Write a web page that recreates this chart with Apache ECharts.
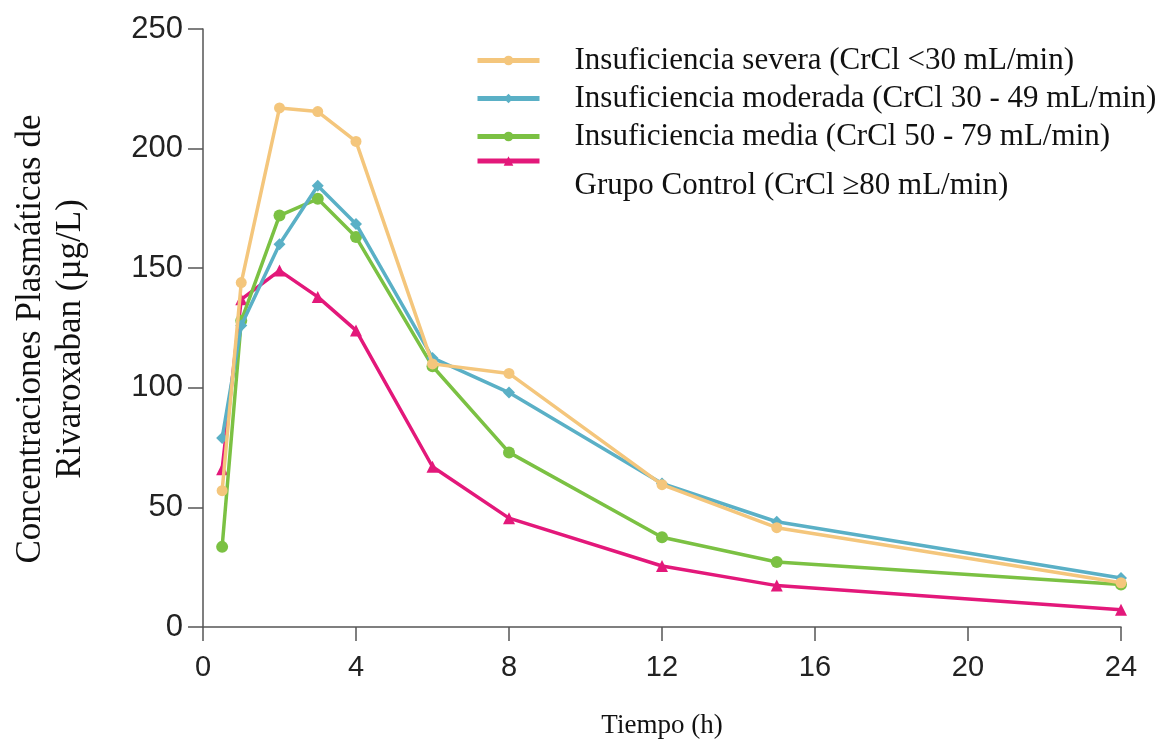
<!DOCTYPE html>
<html>
<head>
<meta charset="utf-8">
<script src="https://cdn.jsdelivr.net/npm/echarts@6/dist/echarts.min.js"></script>
<style>
html,body{margin:0;padding:0;background:#fff;}
#chart{width:1167px;height:747px;}
</style>
</head>
<body>
<div id="chart"></div>
<script>
const times = [0.5, 1, 2, 3, 4, 6, 8, 12, 15, 24];
const severa =   [57, 144, 217, 215.5, 203, 110, 106, 59.5, 41.5, 18.5];
const moderada = [79, 126, 160, 184.5, 168.5, 112.5, 98, 60, 44, 20.5];
const media =    [33.5, 128, 172, 179, 163, 109, 73, 37.5, 27.2, 17.8];
const control =  [66, 137, 149, 138, 124, 67, 45.5, 25.5, 17.3, 7.2];
const seriesNames = [
  'Insuficiencia severa (CrCl <30 mL/min)',
  'Insuficiencia moderada (CrCl 30 - 49 mL/min)',
  'Insuficiencia media (CrCl 50 - 79 mL/min)',
  'Grupo Control (CrCl \u226580 mL/min)'
];
const xTicks = [0, 4, 8, 12, 16, 20, 24];
const yTicks = [0, 50, 100, 150, 200, 250];

const colors = ['#F4C67C', '#5AB0C6', '#7BC143', '#E3187A'];
const symbols = ['circle', 'diamond', 'circle', 'triangle'];
const sizes = [11, 12, 12, 12];
const seriesData = [severa, moderada, media, control];

const chart = echarts.init(document.getElementById('chart'), null, {renderer: 'canvas'});
const serif = "'Liberation Serif', 'Times New Roman', serif";
const sans = "'Liberation Sans', Arial, sans-serif";

const legendText = {
  fontFamily: serif, fontSize: 31, color: '#111', lineHeight: 30,
  padding: [0, 0, 0, 30]
};

const option = {
  animation: false,
  backgroundColor: '#fff',
  grid: {left: 203, right: 46, top: 29, bottom: 120, containLabel: false},
  legend: [
    {
      orient: 'vertical', left: 475, top: 45, padding: 0,
      itemWidth: 62, itemHeight: 12, itemGap: 7,
      data: seriesNames.slice(0, 3),
      lineStyle: {width: 5},
      textStyle: legendText
    },
    {
      orient: 'vertical', left: 475, top: 111, padding: 0,
      itemWidth: 62, itemHeight: 12, itemGap: 7,
      data: seriesNames.slice(3),
      lineStyle: {width: 5},
      formatter: name => '\n' + name,
      textStyle: Object.assign({}, legendText, {lineHeight: 50})
    }
  ],
  xAxis: {
    type: 'value', min: 0, max: 24, interval: 4,
    name: 'Tiempo (h)', nameLocation: 'middle', nameGap: 85,
    nameTextStyle: {fontFamily: serif, fontSize: 27, color: '#111'},
    axisLine: {show: true, onZero: false, lineStyle: {color: '#555', width: 1.5}},
    axisTick: {show: true, length: 14, lineStyle: {color: '#555', width: 1.5}},
    axisLabel: {
      fontFamily: sans, fontSize: 29, color: '#222', margin: 26,
      formatter: v => (xTicks.indexOf(v) >= 0 ? String(v) : '')
    },
    splitLine: {show: false}
  },
  yAxis: {
    type: 'value', min: 0, max: 250, interval: 50,
    name: 'Concentraciones Plasmáticas de\nRivaroxaban (\u00b5g/L)',
    nameLocation: 'middle', nameGap: 112, nameRotate: 90,
    nameTextStyle: {fontFamily: serif, fontSize: 35, color: '#111', lineHeight: 40, padding: [0, 22, 0, 0]},
    axisLine: {show: true, lineStyle: {color: '#555', width: 1.5}},
    axisTick: {show: true, length: 15, lineStyle: {color: '#555', width: 1.5}},
    axisLabel: {
      fontFamily: sans, fontSize: 31, color: '#222', margin: 20,
      formatter: v => (yTicks.indexOf(v) >= 0 ? String(v) : '')
    },
    splitLine: {show: false}
  },
  series: seriesData.map((d, i) => ({
    name: seriesNames[i],
    type: 'line',
    data: times.map((t, j) => [t, d[j]]),
    symbol: symbols[i],
    symbolSize: sizes[i],
    showSymbol: true,
    color: colors[i],
    lineStyle: {width: 3.5, color: colors[i]},
    itemStyle: {color: colors[i]},
    z: 10 - i
  }))
};
chart.setOption(option);
</script>
</body>
</html>
